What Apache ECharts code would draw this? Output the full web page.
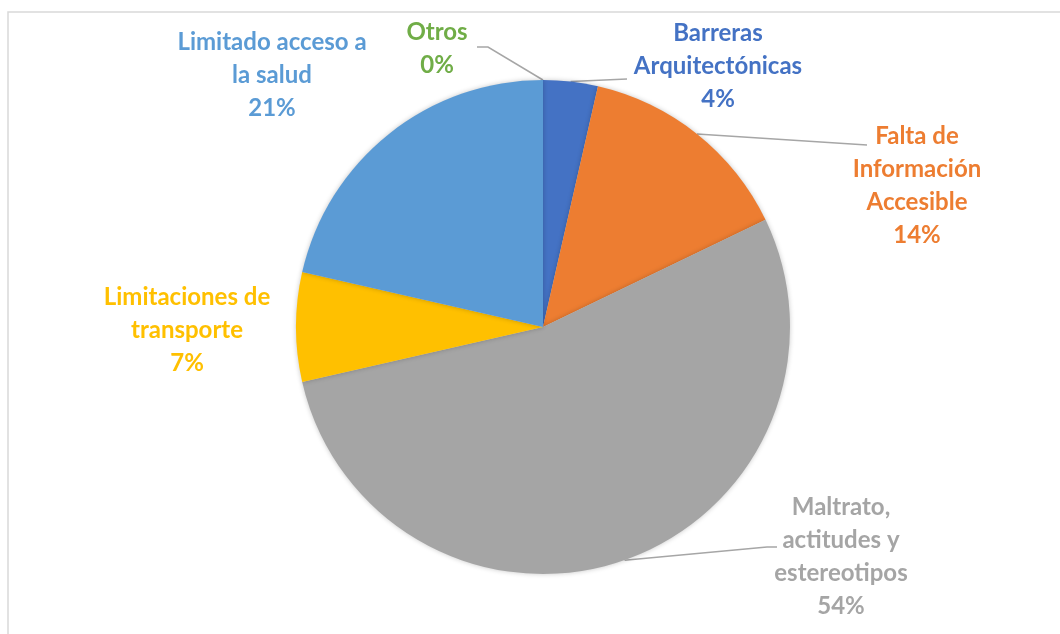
<!DOCTYPE html>
<html>
<head>
<meta charset="utf-8">
<script src="https://cdn.jsdelivr.net/npm/echarts@6/dist/echarts.min.js"></script>
<style>
  html, body { margin: 0; padding: 0; background: #fff; }
  #chart { width: 1060px; height: 634px; }
</style>
</head>
<body>
<div id="chart"></div>
<script>
// categories and counts (28 answers in total)
var categories = [
    'Barreras\nArquitectónicas',
    'Falta de\nInformación\nAccesible',
    'Maltrato,\nactitudes y\nestereotipos',
    'Limitaciones de\ntransporte',
    'Limitado acceso a\nla salud',
    'Otros'
];
var counts = [1, 4, 15, 2, 6, 0];
var colors = ['#4472C4', '#ED7D31', '#A5A5A5', '#FFC000', '#5B9BD5', '#70AD47'];

// where each label sits (block centre) and where its leader line ends
var labelPlaces = [
    { x: 718, y: 66, line: [[627, 79]] },
    { x: 917, y: 186, line: [[867, 145]] },
    { x: 841, y: 557, line: [[767, 547], [777, 547]] },
    { x: 187, y: 330, line: null },
    { x: 272, y: 75, line: null },
    { x: 437, y: 49, line: [[488, 47], [477, 47]] }
];

var chart = echarts.init(document.getElementById('chart'));

var pieData = categories.map(function (name, i) {
    return {
        name: name,
        value: counts[i],
        itemStyle: { color: colors[i] },
        label: { color: colors[i] },
        labelLine: { show: labelPlaces[i].line != null }
    };
});

var option = {
    animation: false,
    backgroundColor: '#fff',
    graphic: [{
        type: 'rect',
        shape: { x: 8, y: 12, width: 1200, height: 800 },
        style: { fill: 'none', stroke: '#d9d9d9', lineWidth: 1.5 },
        silent: true
    }],
    series: [{
        type: 'pie',
        center: [543, 327],
        radius: 247,
        startAngle: 90,
        clockwise: true,
        avoidLabelOverlap: false,
        stillShowZeroSum: true,
        itemStyle: {
            borderWidth: 0,
            shadowBlur: 5,
            shadowColor: 'rgba(0,0,0,0.22)'
        },
        label: {
            show: true,
            position: 'outside',
            fontFamily: 'Lato',
            fontWeight: 'bold',
            fontSize: 24,
            lineHeight: 33,
            align: 'center',
            formatter: function (p) {
                return p.name + '\n' + Math.round(p.percent) + '%';
            }
        },
        labelLine: {
            lineStyle: { color: '#a6a6a6', width: 1.5 }
        },
        labelLayout: function (params) {
            var place = labelPlaces[params.dataIndex];
            var out = {
                x: place.x,
                y: place.y,
                align: 'center',
                verticalAlign: 'middle'
            };
            if (place.line && params.labelLinePoints) {
                out.labelLinePoints = [params.labelLinePoints[0]].concat(place.line);
            }
            return out;
        },
        data: pieData
    }]
};

chart.setOption(option);
</script>
</body>
</html>
